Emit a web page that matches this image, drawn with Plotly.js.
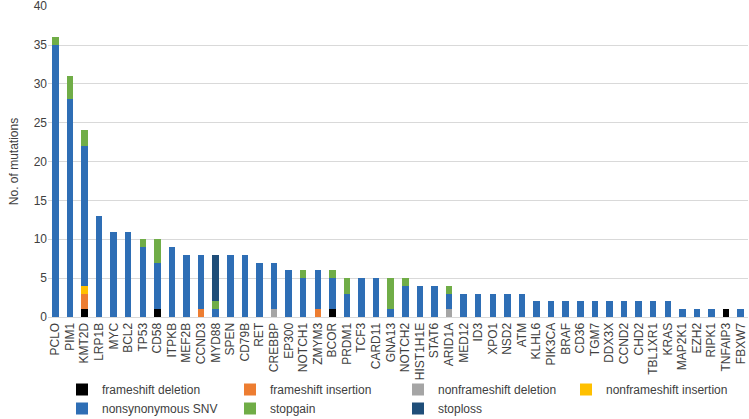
<!DOCTYPE html>
<html>
<head>
<meta charset="utf-8">
<script src="https://cdn.plot.ly/plotly-3.0.1.min.js"></script>
<style>
html, body {margin:0; padding:0; background:#fff;}
#chart {width:749px; height:419px;}
</style>
</head>
<body>
<div id="chart"></div>
<script>
// genes, sorted by total count
var genes = ['PCLO','PIM1','KMT2D','LRP1B','MYC','BCL2','TP53','CD58','ITPKB','MEF2B',
'CCND3','MYD88','SPEN','CD79B','RET','CREBBP','EP300','NOTCH1','ZMYM3','BCOR',
'PRDM1','TCF3','CARD11','GNA13','NOTCH2','HIST1H1E','STAT6','ARID1A','MED12','ID3',
'XPO1','NSD2','ATM','KLHL6','PIK3CA','BRAF','CD36','TGM7','DDX3X','CCND2',
'CHD2','TBL1XR1','KRAS','MAP2K1','EZH2','RIPK1','TNFAIP3','FBXW7'];

// counts per mutation type (same order as genes)
var frameshift_deletion = [0,0,1,0,0,0,0,1,0,0, 0,0,0,0,0,0,0,0,0,1, 0,0,0,0,0,0,0,0,0,0, 0,0,0,0,0,0,0,0,0,0, 0,0,0,0,0,0,1,0];
var frameshift_insertion = [0,0,2,0,0,0,0,0,0,0, 1,0,0,0,0,0,0,0,1,0, 0,0,0,0,0,0,0,0,0,0, 0,0,0,0,0,0,0,0,0,0, 0,0,0,0,0,0,0,0];
var nonframeshift_deletion = [0,0,0,0,0,0,0,0,0,0, 0,0,0,0,0,1,0,0,0,0, 0,0,0,0,0,0,0,1,0,0, 0,0,0,0,0,0,0,0,0,0, 0,0,0,0,0,0,0,0];
var nonframeshift_insertion = [0,0,1,0,0,0,0,0,0,0, 0,0,0,0,0,0,0,0,0,0, 0,0,0,0,0,0,0,0,0,0, 0,0,0,0,0,0,0,0,0,0, 0,0,0,0,0,0,0,0];
var nonsynonymous_snv = [35,28,18,13,11,11,9,6,9,8, 7,1,8,8,7,6,6,5,5,4, 3,5,5,1,4,4,4,2,3,3, 3,3,3,2,2,2,2,2,2,2, 2,2,2,1,1,1,0,1];
var stopgain = [1,3,2,0,0,0,1,3,0,0, 0,1,0,0,0,0,0,1,0,1, 2,0,0,4,1,0,0,1,0,0, 0,0,0,0,0,0,0,0,0,0, 0,0,0,0,0,0,0,0];
var stoploss = [0,0,0,0,0,0,0,0,0,0, 0,6,0,0,0,0,0,0,0,0, 0,0,0,0,0,0,0,0,0,0, 0,0,0,0,0,0,0,0,0,0, 0,0,0,0,0,0,0,0];

var series = [
{name:'frameshift deletion', y:frameshift_deletion, color:'#000000'},
{name:'frameshift insertion', y:frameshift_insertion, color:'#ED7D31'},
{name:'nonframeshift deletion', y:nonframeshift_deletion, color:'#A5A5A5'},
{name:'nonframeshift insertion', y:nonframeshift_insertion, color:'#FFC000'},
{name:'nonsynonymous SNV', y:nonsynonymous_snv, color:'#2E6EB5'},
{name:'stopgain', y:stopgain, color:'#70AD47'},
{name:'stoploss', y:stoploss, color:'#1F4E79'}
];

var graph_data = series.map(function(s){
return {
type:'bar',
x:genes,
y:s.y,
name:s.name,
marker:{color:s.color, line:{width:0}},
hoverinfo:'x+y+name'
};
});

var fam = 'Liberation Sans, Arial, sans-serif';
var txtcolor = '#404040';

var layout = {
width:749,
height:419,
barmode:'stack',
bargap:0.55,
margin:{l:48, r:1, t:6, b:102},
paper_bgcolor:'#ffffff',
plot_bgcolor:'#ffffff',
font:{family:fam, size:12, color:txtcolor},
showlegend:true,
legend:{
orientation:'h',
x:0.02,
xanchor:'left',
yref:'container',
y:0.105,
yanchor:'top',
bgcolor:'rgba(255,255,255,0)',
entrywidth:123,
entrywidthmode:'pixels',
traceorder:'normal',
itemwidth:30,
font:{family:fam, size:12, color:txtcolor},
tracegroupgap:0
},
xaxis:{
type:'category',
tickmode:'linear',
dtick:1,
tickangle:-90,
tickfont:{family:fam, size:12, color:txtcolor},
showline:true,
linecolor:'#d9d9d9',
ticks:'',
showgrid:false
},
yaxis:{
range:[0,40.02],
tickvals:[0,5,10,15,20,25,30,35,40],
ticklabeloverflow:'allow',
tickfont:{family:fam, size:12, color:txtcolor},
gridcolor:'#d9d9d9',
zeroline:false,
ticks:'',
title:{text:'No. of mutations', font:{family:fam, size:12, color:txtcolor}, standoff:12}
}
};

Plotly.newPlot('chart', graph_data, layout, {displayModeBar:false, staticPlot:true});
</script>
</body>
</html>
